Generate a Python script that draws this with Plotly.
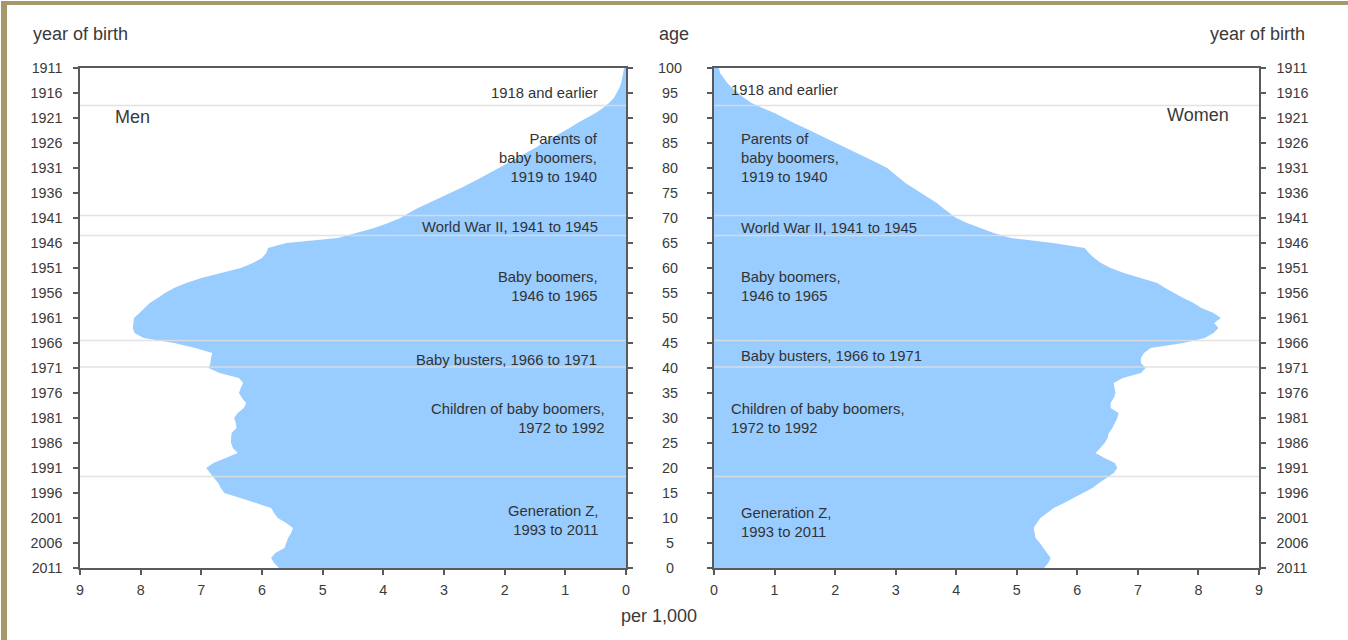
import plotly.graph_objects as go

# reference canvas in pixels (positions below are given in these units)
RW, RH = 1348, 640
# figure size used for the page (compensates the photo scaling)
FW, FH = 1356, 656

ages = list(range(0, 101))
men = [5.72, 5.80, 5.85, 5.78, 5.63, 5.60, 5.57, 5.52, 5.49, 5.60,
       5.74, 5.80, 5.85, 6.10, 6.35, 6.62, 6.68, 6.72, 6.79, 6.86,
       6.92, 6.80, 6.60, 6.40, 6.48, 6.51, 6.51, 6.50, 6.42, 6.43,
       6.46, 6.40, 6.30, 6.26, 6.33, 6.38, 6.35, 6.31, 6.38, 6.70,
       6.88, 6.85, 6.84, 6.82, 7.10, 7.45, 7.95, 8.10, 8.13, 8.12,
       8.11, 8.02, 7.94, 7.85, 7.72, 7.60, 7.45, 7.25, 7.00, 6.65,
       6.35, 6.15, 6.00, 5.93, 5.90, 5.60, 4.75, 4.45, 4.15, 3.92,
       3.72, 3.58, 3.43, 3.25, 3.06, 2.90, 2.72, 2.55, 2.40, 2.25,
       2.10, 1.93, 1.78, 1.64, 1.50, 1.37, 1.22, 1.07, 0.93, 0.80,
       0.65, 0.50, 0.38, 0.28, 0.20, 0.15, 0.11, 0.08, 0.06, 0.04,
       0.03]
women = [5.45, 5.52, 5.56, 5.50, 5.45, 5.38, 5.31, 5.29, 5.28, 5.33,
         5.39, 5.50, 5.61, 5.78, 5.94, 6.10, 6.25, 6.36, 6.47, 6.60,
         6.66, 6.62, 6.45, 6.30, 6.38, 6.45, 6.50, 6.52, 6.58, 6.62,
         6.66, 6.68, 6.55, 6.55, 6.60, 6.63, 6.62, 6.60, 6.75, 7.05,
         7.13, 7.05, 7.05, 7.10, 7.21, 7.75, 8.10, 8.25, 8.33, 8.26,
         8.37, 8.25, 8.05, 7.92, 7.75, 7.59, 7.45, 7.32, 7.05, 6.77,
         6.55, 6.39, 6.28, 6.19, 6.12, 5.60, 4.90, 4.62, 4.40, 4.18,
         4.00, 3.88, 3.78, 3.68, 3.55, 3.42, 3.29, 3.16, 3.06, 2.96,
         2.86, 2.70, 2.53, 2.37, 2.20, 2.03, 1.86, 1.68, 1.50, 1.32,
         1.16, 1.00, 0.80, 0.62, 0.50, 0.40, 0.30, 0.22, 0.16, 0.10,
         0.08]

age_ticks = list(range(0, 101, 5))
year_labels = [str(2011 - a) for a in age_ticks]
x_ticks = list(range(0, 10))
cohort_bounds = [92.5, 70.5, 66.5, 45.5, 40.2, 18.3]

cohorts_left = [
    ("1918 and earlier", 95.0, 599),
    ("Parents of<br>baby boomers,<br>1919 to 1940", 82.0, 599),
    ("World War II, 1941 to 1945", 68.2, 599),
    ("Baby boomers,<br>1946 to 1965", 56.4, 599),
    ("Baby busters, 1966 to 1971", 41.6, 598),
    ("Children of baby boomers,<br>1972 to 1992", 30.0, 606),
    ("Generation Z,<br>1993 to 2011", 9.6, 599),
]
cohorts_right = [
    ("1918 and earlier", 95.6, 728),
    ("Parents of<br>baby boomers,<br>1919 to 1940", 82.0, 738),
    ("World War II, 1941 to 1945", 68.0, 738),
    ("Baby boomers,<br>1946 to 1965", 56.4, 738),
    ("Baby busters, 1966 to 1971", 42.4, 738),
    ("Children of baby boomers,<br>1972 to 1992", 30.0, 728),
    ("Generation Z,<br>1993 to 2011", 9.2, 738),
]

FILL = "#99CCFF"
AX = "#5a5a5a"
TXT = "#3a3a3a"
FONT = "Liberation Sans, Arial, sans-serif"

def px(x):
    return x / RW

def py(y):
    return 1 - y / RH

fig = go.Figure()
fig.add_trace(go.Scatter(x=men, y=ages, xaxis="x", yaxis="y", mode="lines",
                         line=dict(width=0, color=FILL), fill="tozerox",
                         fillcolor=FILL, hoverinfo="skip", showlegend=False))
fig.add_trace(go.Scatter(x=women, y=ages, xaxis="x2", yaxis="y2", mode="lines",
                         line=dict(width=0, color=FILL), fill="tozerox",
                         fillcolor=FILL, hoverinfo="skip", showlegend=False))

tickfont = dict(family=FONT, size=14.3, color=TXT)
common_x = dict(tickmode="array", tickvals=x_ticks, ticktext=[str(v) for v in x_ticks],
                ticks="outside", ticklen=5, tickwidth=1.5, tickcolor=AX,
                showline=True, linecolor=AX, linewidth=1.5, mirror=True,
                showgrid=False, zeroline=False, tickfont=tickfont,
                ticklabelstandoff=3, fixedrange=True)
common_y = dict(tickmode="array", tickvals=age_ticks, ticktext=year_labels,
                range=[0, 100], ticks="outside", ticklen=5, tickwidth=1.5, tickcolor=AX,
                showline=True, linecolor=AX, linewidth=1.5, mirror="ticks",
                showgrid=False, zeroline=False, tickfont=tickfont,
                ticklabelstandoff=8, fixedrange=True)

fig.update_layout(
    width=FW, height=FH,
    margin=dict(l=0, r=0, t=0, b=0),
    paper_bgcolor="white", plot_bgcolor="white",
    xaxis=dict(domain=[px(79), px(625)], range=[9, 0], anchor="y", **common_x),
    xaxis2=dict(domain=[px(713), px(1258)], range=[0, 9], anchor="y2", **common_x),
    yaxis=dict(domain=[py(567), py(67)], anchor="x", side="left", **common_y),
    yaxis2=dict(domain=[py(567), py(67)], anchor="x2", side="right", **common_y),
    font=dict(family=FONT, color=TXT),
)

shapes = []
for b in cohort_bounds:
    for xr, yr in (("x", "y"), ("x2", "y2")):
        shapes.append(dict(type="line", xref=xr, yref=yr, x0=0, x1=9, y0=b, y1=b,
                           line=dict(color="rgba(222,222,222,0.85)", width=1.5),
                           layer="above"))
# olive frame
shapes.append(dict(type="rect", xref="paper", yref="paper", x0=0, x1=px(6), y0=0, y1=1,
                   line=dict(width=0), fillcolor="#A69868", layer="above"))
shapes.append(dict(type="rect", xref="paper", yref="paper", x0=0, x1=1, y0=py(4), y1=1,
                   line=dict(width=0), fillcolor="#A69868", layer="above"))
fig.update_layout(shapes=shapes)

ann = []
title_font = dict(family=FONT, size=18, color=TXT)
ann.append(dict(text="year of birth", x=px(30), y=py(33), xref="paper", yref="paper",
                xanchor="left", yanchor="middle", showarrow=False, font=title_font))
ann.append(dict(text="year of birth", x=px(1306), y=py(33), xref="paper", yref="paper",
                xanchor="right", yanchor="middle", showarrow=False, font=title_font))
ann.append(dict(text="age", x=px(673), y=py(33), xref="paper", yref="paper",
                xanchor="center", yanchor="middle", showarrow=False, font=title_font))
ann.append(dict(text="per 1,000", x=px(658), y=py(615), xref="paper", yref="paper",
                xanchor="center", yanchor="middle", showarrow=False, font=title_font))
ann.append(dict(text="Men", x=px(112), y=py(116), xref="paper", yref="paper",
                xanchor="left", yanchor="middle", showarrow=False, font=title_font))
ann.append(dict(text="Women", x=px(1230), y=py(114), xref="paper", yref="paper",
                xanchor="right", yanchor="middle", showarrow=False, font=title_font))

for a in age_ticks:
    ann.append(dict(text=str(a), x=px(669), y=a, xref="paper", yref="y",
                    xanchor="center", yanchor="middle", showarrow=False, font=tickfont))

cfont = dict(family=FONT, size=14.8, color="#333333")
for t, yv, xr in cohorts_left:
    ann.append(dict(text=t, x=px(xr), y=yv, xref="paper", yref="y", xanchor="right",
                    yanchor="middle", align="right", showarrow=False, font=cfont))
for t, yv, xl in cohorts_right:
    ann.append(dict(text=t, x=px(xl), y=yv, xref="paper", yref="y2", xanchor="left",
                    yanchor="middle", align="left", showarrow=False, font=cfont))
fig.update_layout(annotations=ann)

pin = ("document.body.style.margin='0';document.body.style.overflow='hidden';"
       "var gd=document.getElementById('{plot_id}');"
       "gd.style.position='fixed';gd.style.left='-3.5px';gd.style.top='-7px';")
fig.write_html("out.html", post_script=pin, config={"displayModeBar": False})
